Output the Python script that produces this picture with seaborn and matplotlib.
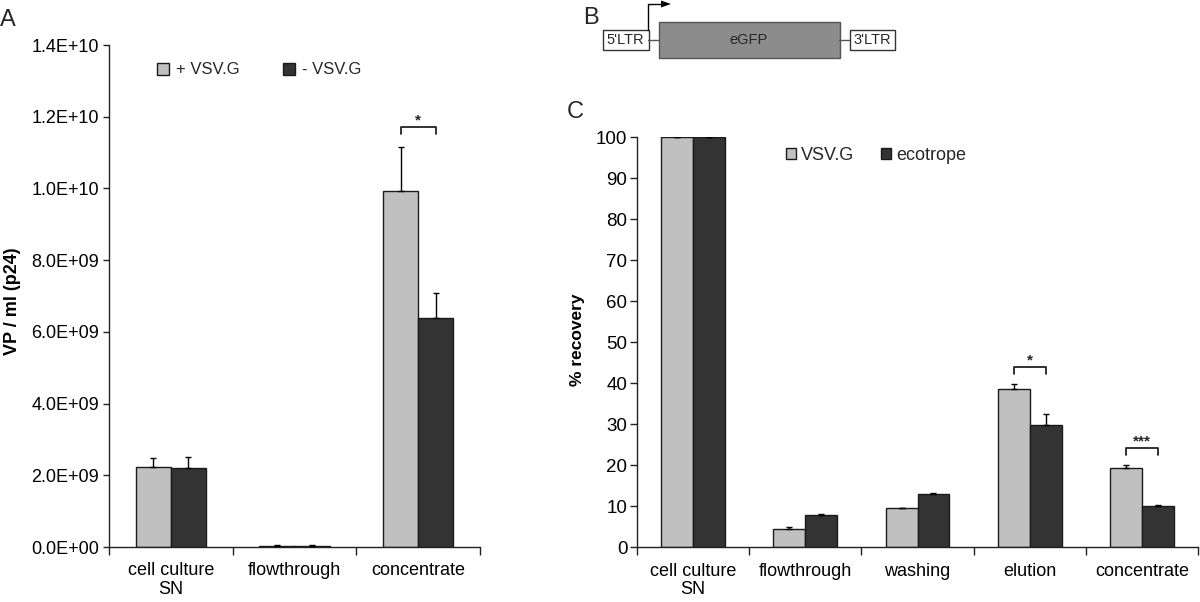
import numpy as np
import pandas as pd
import matplotlib
matplotlib.use("Agg")
import matplotlib.pyplot as plt
import seaborn as sns
from matplotlib.patches import Rectangle, Polygon
from matplotlib.ticker import FuncFormatter, FixedLocator

# ---- panel A data (VP / ml, p24 ELISA) ----
stages_a = ["cell culture\nSN", "flowthrough", "concentrate"]
groups_a = ["+ VSV.G", "- VSV.G"]
vp_plus = [2.22e9, 0.04e9, 9.93e9]
vp_minus = [2.19e9, 0.04e9, 6.40e9]
vp_plus_err = [0.27e9, 0.01e9, 1.23e9]
vp_minus_err = [0.33e9, 0.01e9, 0.68e9]
sig_a = {"concentrate": "*"}

# ---- panel C data (% recovery) ----
stages_c = ["cell culture\nSN", "flowthrough", "washing", "elution", "concentrate"]
groups_c = ["VSV.G", "ecotrope"]
rec_vsvg = [100.0, 4.4, 9.6, 38.5, 19.3]
rec_eco = [100.0, 7.9, 13.0, 29.8, 10.0]
rec_vsvg_err = [0.1, 0.5, 0.1, 1.3, 0.7]
rec_eco_err = [0.1, 0.2, 0.3, 2.6, 0.4]
sig_c = {"elution": "*", "concentrate": "***"}

LIGHT = "#c0c0c0"
DARK = "#333333"

sns.set_theme(style="white")
plt.rcParams["font.family"] = ["Liberation Sans", "DejaVu Sans"]

W, H = 1200, 602
fig = plt.figure(figsize=(W / 100, H / 100), dpi=100)


def px_axes(left, top, right, bottom):
    return fig.add_axes([left / W, 1 - bottom / H, (right - left) / W, (bottom - top) / H])


def make_df(stages, groups, v1, v2, e1, e2):
    return pd.DataFrame({
        "stage": stages * 2,
        "group": [groups[0]] * len(stages) + [groups[1]] * len(stages),
        "value": v1 + v2,
        "err": e1 + e2,
    })


def draw_bars(ax, df, stages, groups):
    sns.barplot(data=df, x="stage", y="value", hue="group", order=stages,
                hue_order=groups, palette=[LIGHT, DARK], width=0.57,
                edgecolor="#1a1a1a", linewidth=1.0, errorbar=None,
                saturation=1, legend=True, ax=ax)
    # upper error bars only, Excel style
    tops = {}
    for cont, g in zip(ax.containers, groups):
        sub = df[df["group"] == g].set_index("stage").loc[stages]
        xs = [b.get_x() + b.get_width() / 2 for b in cont]
        ax.errorbar(xs, sub["value"], yerr=[np.zeros(len(xs)), sub["err"]],
                    fmt="none", ecolor="black", elinewidth=1.0, capsize=2.5,
                    capthick=1.0, zorder=3)
        for s, x, v, e in zip(stages, xs, sub["value"], sub["err"]):
            tops.setdefault(s, []).append((x, v + e))
    return tops


def style_axes(ax, n, fs):
    sns.despine(ax=ax)
    for sp in ["left", "bottom"]:
        ax.spines[sp].set_color("#222222")
        ax.spines[sp].set_linewidth(1.0)
    ax.set_xlim(-0.5, n - 0.5)
    ax.xaxis.set_minor_locator(FixedLocator(np.arange(-0.5, n, 1.0)))
    ax.tick_params(axis="x", which="major", length=0, pad=11, labelsize=fs, colors="black")
    ax.tick_params(axis="x", which="minor", length=6, width=1.0, direction="out",
                   color="#222222", bottom=True)
    ax.tick_params(axis="y", length=4, width=1.0, direction="out", color="#222222",
                   left=True, pad=3, labelsize=fs, labelcolor="black")
    ax.set_xlabel("")
    for lab in ax.get_xticklabels():
        lab.set_linespacing(1.1)


def bracket(ax, tops, sig, gap, drop, fs):
    for s, star in sig.items():
        (x1, t1), (x2, t2) = tops[s]
        y = max(t1, t2) + gap
        ax.plot([x1, x1, x2, x2], [y - drop, y, y, y - drop], color="#222222", lw=1.3)
        ax.text((x1 + x2) / 2, y, star, ha="center", va="bottom", fontsize=fs,
                fontweight="bold")


# ---------------- panel A ----------------
axA = px_axes(109, 45, 480, 547)
dfA = make_df(stages_a, groups_a, vp_plus, vp_minus, vp_plus_err, vp_minus_err)
topsA = draw_bars(axA, dfA, stages_a, groups_a)
axA.set_ylim(0, 1.4e10)
axA.set_yticks(np.arange(0, 1.41e10, 2e9))
axA.yaxis.set_major_formatter(FuncFormatter(lambda v, p: "{:.1E}".format(v)))
style_axes(axA, len(stages_a), 13)
axA.set_ylabel("VP / ml (p24)", fontsize=13, fontweight="bold", color="black")
axA.yaxis.set_label_coords(-0.237, 0.49)
bracket(axA, topsA, sig_a, 0.055e10, 0.018e10, 11)
axA.legend(loc="center left", bbox_to_anchor=(157 / W, 1 - 70 / H),
           bbox_transform=fig.transFigure, ncol=2, frameon=False, fontsize=12,
           handlelength=0.72, handleheight=0.72, handletextpad=0.45,
           columnspacing=2.55, borderpad=0, borderaxespad=0)

# ---------------- panel C ----------------
axC = px_axes(637, 137.3, 1198, 547.3)
dfC = make_df(stages_c, groups_c, rec_vsvg, rec_eco, rec_vsvg_err, rec_eco_err)
topsC = draw_bars(axC, dfC, stages_c, groups_c)
axC.set_ylim(0, 100)
axC.set_yticks(np.arange(0, 101, 10))
style_axes(axC, len(stages_c), 13)
axC.tick_params(axis="y", labelsize=13.5, pad=2, length=5)
axC.set_ylabel("% recovery", fontsize=12.5, fontweight="bold", color="black")
axC.yaxis.set_label_coords(-0.093, 0.506)
bracket(axC, topsC, sig_c, 4.1, 1.6, 11)
axC.legend(loc="center left", bbox_to_anchor=(786 / W, 1 - 155 / H),
           bbox_transform=fig.transFigure, ncol=2, frameon=False, fontsize=13,
           handlelength=0.55, handleheight=0.55, handletextpad=0.3,
           columnspacing=1.45, borderpad=0, borderaxespad=0)

# ---------------- panel B (vector construct) ----------------
axB = fig.add_axes([0, 0, 1, 1], zorder=-1)
axB.set_xlim(0, W)
axB.set_ylim(H, 0)
axB.axis("off")
axB.plot([648, 658], [40, 40], color="#555555", lw=1)
axB.plot([839, 849], [40, 40], color="#555555", lw=1)
axB.add_patch(Rectangle((603, 29.5), 45.5, 20.5, fc="white", ec="#333333", lw=1))
axB.add_patch(Rectangle((849.5, 29.5), 45.5, 20.5, fc="white", ec="#333333", lw=1))
axB.add_patch(Rectangle((658.5, 22), 181, 36, fc="#8c8c8c", ec="#555555", lw=1))
axB.text(625.7, 40, "5'LTR", ha="center", va="center", fontsize=10.5)
axB.text(872.2, 40, "3'LTR", ha="center", va="center", fontsize=10.5)
axB.text(749, 40, "eGFP", ha="center", va="center", fontsize=10.5)
axB.plot([648.3, 648.3, 662], [29.5, 4, 4], color="black", lw=1)
axB.add_patch(Polygon([[661, 0.5], [661, 7.5], [671, 4]], closed=True, fc="black", ec="none"))

# panel letters
fig.text(0 / W, 1 - 26 / H, "A", fontsize=17, ha="left", va="baseline")
fig.text(583 / W, 1 - 24 / H, "B", fontsize=17, ha="left", va="baseline")
fig.text(567 / W, 1 - 118 / H, "C", fontsize=17, ha="left", va="baseline")

fig.savefig("out.png", dpi=100)
